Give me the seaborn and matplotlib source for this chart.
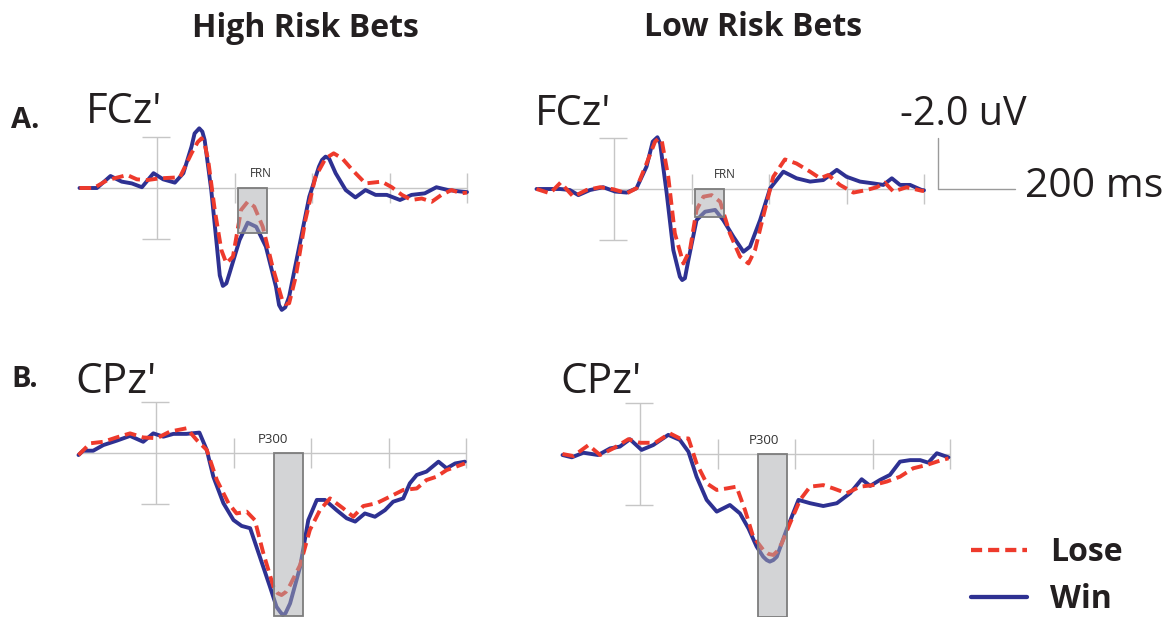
import matplotlib
matplotlib.use("Agg")
import matplotlib.pyplot as plt
from matplotlib.patches import Rectangle
from matplotlib.lines import Line2D
import seaborn as sns

# ---------------------------------------------------------------------------
# Grand-average ERP waveforms: time in ms, amplitude in uV (negative up)
# ---------------------------------------------------------------------------
# High risk bets, FCz'
hi_fcz_win_t = [-200, -155, -120, -91, -65, -39, -9, 16, 46, 68, 89, 97, 109, 117, 123, 140, 153, 162,
                170, 179, 187, 213, 234, 256, 281, 307, 315, 322, 331, 341, 367, 393, 418, 426, 435,
                444, 461, 487, 512, 538, 564, 593, 627, 657, 691, 721, 751, 785, 800]
hi_fcz_win_uv = [0.0, 0.0, -0.47, -0.25, -0.18, -0.03, -0.58, -0.34, -0.21, -0.58, -1.62, -2.14, -2.34,
                 -2.21, -1.88, 0.08, 2.04, 3.43, 3.84, 3.74, 3.35, 2.04, 1.36, 1.52, 2.30, 3.87, 4.59,
                 4.78, 4.68, 4.26, 2.30, 0.34, -0.84, -1.10, -1.23, -1.16, -0.58, 0.08, 0.37, 0.08,
                 0.27, 0.27, 0.47, 0.27, 0.21, -0.03, 0.08, 0.14, 0.16]
hi_fcz_lose_t = [-200, -163, -128, -77, -52, -26, 8, 59, 89, 105, 115, 123, 132, 149, 166, 179, 196,
                 217, 234, 251, 273, 298, 323, 332, 341, 358, 383, 409, 435, 456, 478, 504, 538, 580,
                 606, 632, 657, 683, 709, 734, 760, 785, 800]
hi_fcz_lose_uv = [0.0, 0.0, -0.31, -0.51, -0.34, -0.31, -0.38, -0.42, -1.36, -1.80, -1.95, -1.72, -1.10,
                  0.86, 2.43, 2.95, 2.69, 0.86, 0.54, 0.73, 1.52, 3.08, 4.39, 4.55, 4.52, 3.48, 1.25,
                  -0.44, -1.16, -1.36, -1.16, -0.71, -0.18, -0.25, -0.03, 0.27, 0.47, 0.41, 0.54,
                  0.27, 0.08, 0.21, 0.18]

# Low risk bets, FCz'
lo_fcz_win_t = [-200, -174, -139, -114, -92, -62, -28, 3, 33, 58, 84, 100, 112, 119, 136, 153, 170,
                176, 183, 192, 213, 235, 261, 282, 308, 334, 351, 377, 403, 437, 471, 506, 540, 575,
                600, 635, 669, 695, 717, 738, 764, 794, 800]
lo_fcz_win_uv = [0.0, 0.0, 0.0, 0.04, 0.24, 0.04, -0.07, 0.10, 0.14, -0.03, -0.88, -1.86, -2.03, -1.79,
                 0.17, 2.39, 3.44, 3.57, 3.50, 2.78, 1.22, 0.89, 0.82, 1.22, 1.87, 2.46, 2.26, 1.22,
                 -0.03, -0.68, -0.42, -0.29, -0.35, -0.75, -0.48, -0.29, -0.22, -0.16, -0.42, -0.16,
                 -0.16, 0.04, 0.05]
lo_fcz_lose_t = [-200, -165, -138, -105, -71, -36, -2, 33, 58, 84, 106, 115, 123, 140, 157, 179, 196,
                 213, 231, 252, 274, 299, 325, 347, 364, 385, 411, 441, 471, 506, 532, 553, 583, 618,
                 652, 678, 699, 721, 755, 794, 800]
lo_fcz_lose_uv = [0.0, 0.17, -0.25, 0.30, 0.04, -0.07, 0.01, 0.17, -0.03, -1.00, -1.86, -1.98, -1.92,
                  -0.48, 1.74, 2.92, 2.39, 0.82, 0.30, 0.24, 0.50, 1.74, 2.65, 2.92, 2.39, 1.08,
                  -0.48, -1.16, -1.00, -0.68, -0.42, -0.55, -0.16, 0.14, 0.04, -0.07, -0.25, 0.10,
                  -0.07, 0.07, 0.08]

# High risk bets, CPz'
hi_cpz_win_t = [-200, -188, -162, -136, -102, -67, -33, -7, 19, 45, 79, 112, 131, 148, 174, 200, 221,
                243, 268, 294, 311, 320, 327, 334, 346, 372, 393, 415, 436, 466, 492, 514, 539, 565,
                591, 612, 638, 655, 673, 698, 729, 750, 772, 797]
hi_cpz_win_uv = [0.08, -0.09, -0.09, -0.31, -0.48, -0.67, -0.44, -0.77, -0.64, -0.75, -0.75, -0.80,
                 -0.12, 0.93, 1.97, 2.63, 2.86, 2.95, 4.07, 5.24, 6.03, 6.22, 6.35, 6.29, 5.90, 4.46,
                 2.63, 1.84, 1.84, 2.24, 2.56, 2.69, 2.37, 2.50, 2.24, 1.91, 1.78, 1.19, 0.86, 0.73,
                 0.34, 0.60, 0.41, 0.34]
hi_cpz_lose_t = [-200, -170, -136, -102, -67, -33, 2, 36, 79, 105, 131, 157, 187, 208, 234, 255, 277,
                 303, 314, 324, 335, 346, 372, 397, 423, 449, 483, 509, 535, 569, 604, 638, 673, 698,
                 724, 750, 797]
hi_cpz_lose_uv = [0.08, -0.38, -0.44, -0.61, -0.77, -0.61, -0.58, -0.84, -0.97, -0.51, -0.12, 1.06,
                  1.97, 2.37, 2.30, 2.63, 3.93, 5.24, 5.50, 5.57, 5.45, 5.18, 4.39, 3.02, 2.24, 1.78,
                  2.17, 2.50, 2.08, 1.97, 1.71, 1.45, 1.39, 1.06, 0.93, 0.67, 0.41]

# Low risk bets, CPz'
lo_cpz_win_t = [-200, -176, -146, -108, -77, -52, -26, 4, 34, 73, 103, 125, 146, 172, 198, 232, 258,
                280, 301, 318, 327, 335, 344, 353, 378, 409, 439, 473, 508, 542, 572, 594, 619, 645,
                671, 697, 723, 744, 766, 796]
lo_cpz_win_uv = [0.04, 0.13, -0.05, 0.04, -0.22, -0.29, -0.58, -0.16, -0.35, -0.75, -0.55, -0.09, 0.89,
                 1.80, 2.26, 2.00, 2.33, 2.92, 3.63, 4.03, 4.16, 4.22, 4.16, 4.03, 2.98, 1.80, 1.93,
                 2.04, 1.93, 1.54, 0.99, 1.25, 1.02, 0.82, 0.30, 0.24, 0.24, 0.34, -0.03, 0.13]
lo_cpz_lose_t = [-200, -172, -133, -103, -69, -30, 0, 39, 77, 103, 125, 146, 172, 198, 224, 249, 271,
                 292, 318, 332, 344, 355, 366, 387, 413, 439, 473, 499, 533, 568, 602, 637, 671, 705,
                 740, 774, 796]
lo_cpz_lose_uv = [0.0, 0.08, -0.35, 0.04, -0.22, -0.58, -0.44, -0.44, -0.81, -0.61, -0.61, 0.37, 1.15,
                  1.41, 1.35, 1.28, 2.20, 3.24, 3.76, 3.92, 3.96, 3.80, 3.50, 2.72, 1.80, 1.28, 1.22,
                  1.35, 1.54, 1.28, 1.22, 1.08, 0.89, 0.56, 0.43, 0.26, 0.17]

# Component windows (ms) and box depth (uV)
frn_window = (210, 285)
p300_window = (305, 380)
frn_depth = {"high": 1.75, "low": 1.1}
p300_depth = 6.4

conditions = ["Lose", "Win"]
column_titles = ["High Risk Bets", "Low Risk Bets"]
row_letters = ["A.", "B."]
channels = ["FCz'", "CPz'"]

# ---------------------------------------------------------------------------
# Styling
# ---------------------------------------------------------------------------
sns.set_theme(style="white")
plt.rcParams["font.family"] = ["Open Sans", "DejaVu Sans"]

WIN_COLOR = "#2e3192"
LOSE_COLOR = "#ee3a2c"
GUIDE_COLOR = "#c6c6c6"
BOX_FACE = "#a9abae"
BOX_EDGE = "#7d7d7d"
TEXT_COLOR = "#231f20"
LINE_W = 2.8
LOSE_DASH = (0, (3.0, 1.5))

W, H = 1176, 617
PX_PER_MS = 0.3875
PX_PER_UV = 25.5

fig = plt.figure(figsize=(W / 100, H / 100), dpi=100)
fig.patch.set_facecolor("white")


def fx(px):
    return px / W


def fy(py):
    return 1 - py / H


def add_panel(zero_px, base_px, v_top, v_bot):
    left = zero_px - 200 * PX_PER_MS
    width = 1000 * PX_PER_MS
    top = base_px + v_top * PX_PER_UV
    height = (v_bot - v_top) * PX_PER_UV
    ax = fig.add_axes([fx(left), fy(top + height), width / W, height / H])
    ax.set_xlim(-200, 800)
    ax.set_ylim(v_bot, v_top)  # negative amplitudes plotted upward
    ax.axis("off")
    return ax


def draw_guides(ax):
    ax.axhline(0, color=GUIDE_COLOR, lw=1.0, zorder=1)
    ax.vlines(0, -2, 2, color=GUIDE_COLOR, lw=1.0, zorder=1)
    ax.hlines([-2, 2], -38, 33, color=GUIDE_COLOR, lw=1.0, zorder=1)
    ax.vlines([200, 400, 600, 800], -0.6, 0.6, color=GUIDE_COLOR, lw=1.0,
              zorder=1, clip_on=False)


def draw_traces(ax, win_t, win_uv, lose_t, lose_uv):
    sns.lineplot(x=win_t, y=win_uv, ax=ax, color=WIN_COLOR, lw=LINE_W,
                 sort=False, estimator=None, zorder=3, clip_on=False,
                 solid_joinstyle="round", solid_capstyle="round")
    sns.lineplot(x=lose_t, y=lose_uv, ax=ax, color=LOSE_COLOR, lw=LINE_W,
                 linestyle=LOSE_DASH, sort=False, estimator=None, zorder=4,
                 clip_on=False, dash_joinstyle="round")
    ax.set_xlim(-200, 800)


def draw_window(ax, window, depth, label, label_t, label_v, size):
    ax.add_patch(Rectangle((window[0], 0), window[1] - window[0], depth,
                           facecolor=BOX_FACE, alpha=0.5, edgecolor="none",
                           zorder=5, clip_on=False))
    ax.add_patch(Rectangle((window[0], 0), window[1] - window[0], depth,
                           facecolor="none", edgecolor=BOX_EDGE, lw=1.3,
                           zorder=6, clip_on=False))
    ax.text(label_t, label_v, label, ha="center", va="baseline",
            fontsize=size, color="#333333", zorder=7)


panels = {
    ("A", "high"): add_panel(157, 188, -3.2, 5.5),
    ("A", "low"): add_panel(614, 189, -3.2, 5.5),
    ("B", "high"): add_panel(156, 453, -2.6, 6.45),
    ("B", "low"): add_panel(640, 454, -2.6, 6.45),
}

traces = {
    ("A", "high"): (hi_fcz_win_t, hi_fcz_win_uv, hi_fcz_lose_t, hi_fcz_lose_uv),
    ("A", "low"): (lo_fcz_win_t, lo_fcz_win_uv, lo_fcz_lose_t, lo_fcz_lose_uv),
    ("B", "high"): (hi_cpz_win_t, hi_cpz_win_uv, hi_cpz_lose_t, hi_cpz_lose_uv),
    ("B", "low"): (lo_cpz_win_t, lo_cpz_win_uv, lo_cpz_lose_t, lo_cpz_lose_uv),
}

for key, ax in panels.items():
    draw_guides(ax)
    draw_traces(ax, *traces[key])

draw_window(panels[("A", "high")], frn_window, frn_depth["high"], "FRN", 269, -0.45, 8.5)
draw_window(panels[("A", "low")], frn_window, frn_depth["low"], "FRN", 286, -0.45, 8.5)
draw_window(panels[("B", "high")], p300_window, p300_depth, "P300", 302, -0.4, 9.5)
draw_window(panels[("B", "low")], p300_window, p300_depth, "P300", 320, -0.4, 9.5)

# Calibration bar next to the low-risk FCz' panel
cal_ax = panels[("A", "low")]
cal_ax.plot([836, 836, 1036], [-2, 0, 0], color="#9a9a9a", lw=1.0, clip_on=False)

# ---------------------------------------------------------------------------
# Text
# ---------------------------------------------------------------------------
fig.text(fx(305), fy(37), column_titles[0], ha="center", va="baseline",
         fontsize=23, fontweight="bold", color=TEXT_COLOR)
fig.text(fx(753), fy(36), column_titles[1], ha="center", va="baseline",
         fontsize=23, fontweight="bold", color=TEXT_COLOR)

fig.text(fx(11), fy(128), row_letters[0], ha="left", va="baseline",
         fontsize=21, fontweight="bold", color=TEXT_COLOR)
fig.text(fx(11), fy(387), row_letters[1], ha="left", va="baseline",
         fontsize=21, fontweight="bold", color=TEXT_COLOR)

fig.text(fx(86), fy(123), channels[0], ha="left", va="baseline",
         fontsize=30, color=TEXT_COLOR)
fig.text(fx(535), fy(125), channels[0], ha="left", va="baseline",
         fontsize=30, color=TEXT_COLOR)
fig.text(fx(75), fy(393), channels[1], ha="left", va="baseline",
         fontsize=30.5, color=TEXT_COLOR)
fig.text(fx(560), fy(393), channels[1], ha="left", va="baseline",
         fontsize=30.5, color=TEXT_COLOR)

fig.text(fx(900), fy(125), "-2.0 uV", ha="left", va="baseline",
         fontsize=28.5, color=TEXT_COLOR)
fig.text(fx(1025), fy(197), "200 ms", ha="left", va="baseline",
         fontsize=29.5, color=TEXT_COLOR)

# Legend
handles = [Line2D([], [], color=LOSE_COLOR, lw=LINE_W * 1.1, linestyle=(0, (2.6, 1.4))),
           Line2D([], [], color=WIN_COLOR, lw=LINE_W * 1.1)]
fig.legend(handles, conditions, loc="center left",
           bbox_to_anchor=(fx(971), fy(576)), frameon=False,
           prop={"family": ["Open Sans", "DejaVu Sans"], "weight": "bold", "size": 23},
           handlelength=1.75, handletextpad=0.72, labelspacing=0.42,
           borderpad=0, borderaxespad=0, labelcolor=TEXT_COLOR)

fig.savefig("out.png", dpi=100, facecolor="white")
